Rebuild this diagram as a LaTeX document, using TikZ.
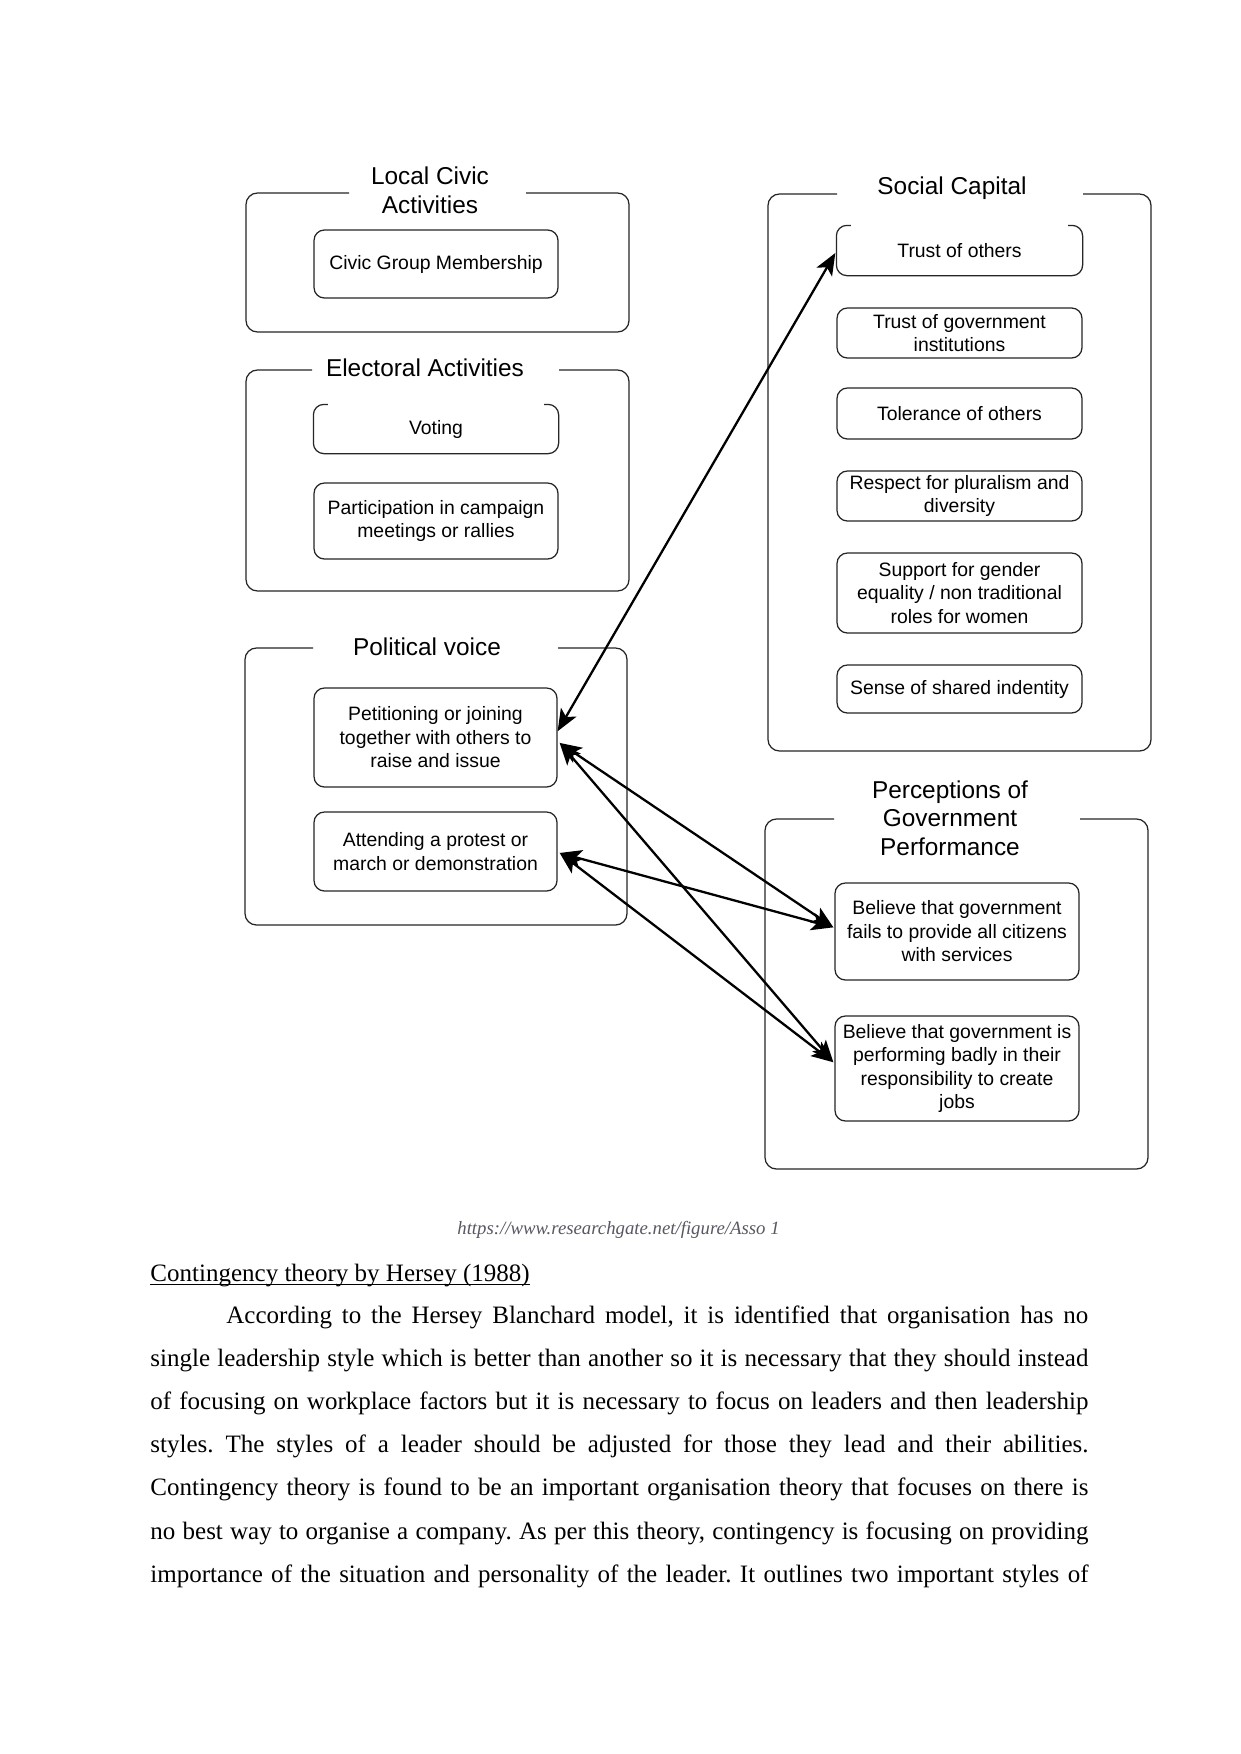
\documentclass[tikz,border=0pt]{standalone}
\usepackage{fontspec}
\setmainfont{Liberation Serif}
\newfontfamily\dsans{Liberation Sans}
\usetikzlibrary{arrows.meta}
\frenchspacing
\newcommand{\ux}{0.4797pt}
\definecolor{capgray}{RGB}{88,88,100}
\tikzset{
  ibox/.style={draw=black!85, rounded corners=5pt, line width=0.6pt, align=center, inner sep=0pt,
    font=\dsans\fontsize{9.3}{11.3}\selectfont},
  obox/.style={ibox, draw=none},
  gbox/.style={rounded corners=5.5pt, line width=0.6pt, draw=black!85},
  gtitle/.style={align=center, inner sep=0pt, anchor=base, font=\dsans\fontsize{11.7}{13.6}\selectfont},
  conn/.style={{Stealth[length=10.5pt,width=8.5pt,inset=2.5pt]}-{Stealth[length=10.5pt,width=8.5pt,inset=2.5pt]}, line width=1.1pt},
  body/.style={anchor=base west, inner sep=0pt, font=\fontsize{12}{14}\selectfont},
}
\newcommand\groupbox[6]{\draw[gbox] (#5,#2) -- (#1,#2) -- (#1,#4) -- (#3,#4) -- (#3,#2) -- (#6,#2);}
\newcommand\opentop[1]{\draw[gbox, rounded corners=5pt] ([xshift=7pt]#1.north west) -- (#1.north west) -- (#1.south west) -- (#1.south east) -- (#1.north east) -- ([xshift=-7pt]#1.north east);}
\begin{document}
\begin{tikzpicture}[x=\ux, y=-\ux]
\useasboundingbox (0,0) rectangle (1241,1754);
\fill[white] (0,0) rectangle (1241,1754);

% group boxes
\groupbox{246}{193}{629}{332}{349}{526}
\groupbox{246}{370}{629}{591}{312}{559}
\groupbox{245}{648}{627}{925}{313}{558}
\groupbox{768}{194}{1151}{751}{837}{1083}
\groupbox{765}{819}{1148}{1169}{834}{1080}

% titles (base = last line)
\node[gtitle] (tlc) at (430,213) {Local Civic\\Activities};
\node[gtitle] (tel) at (425,376) {Electoral Activities};
\node[gtitle] (tpv) at (427,655) {Political voice};
\node[gtitle] (tsc) at (952,195) {Social Capital};
\node[gtitle] (tpg) at (950,855) {Perceptions of\\Government\\Performance};

% inner boxes, left
\node[ibox, minimum width=244*\ux, minimum height=68*\ux] (civ) at (436,264) {Civic Group Membership};
\node[obox, minimum width=244*\ux, minimum height=48*\ux] (vot) at (436,429) {Voting};
\opentop{vot}
\node[ibox, minimum width=244*\ux, minimum height=76*\ux] (par) at (436,521) {Participation in campaign\\meetings or rallies};
\node[ibox, minimum width=243*\ux, minimum height=99*\ux] (pet) at (435.5,737.5) {Petitioning or joining\\together with others to\\raise and issue};
\node[ibox, minimum width=243*\ux, minimum height=79*\ux] (att) at (435.5,851.5) {Attending a protest or\\march or demonstration};

% inner boxes, right
\node[obox, minimum width=245*\ux, minimum height=49*\ux] (tru) at (959.5,250.5) {Trust of others};
\opentop{tru}
\node[ibox, minimum width=245*\ux, minimum height=50*\ux] (tgo) at (959.5,333) {Trust of government\\institutions};
\node[ibox, minimum width=245*\ux, minimum height=51*\ux] (tol) at (959.5,413.5) {Tolerance of others};
\node[ibox, minimum width=245*\ux, minimum height=50*\ux] (res) at (959.5,496) {Respect for pluralism and\\diversity};
\node[ibox, minimum width=245*\ux, minimum height=80*\ux] (sup) at (959.5,593) {Support for gender\\equality / non traditional\\roles for women};
\node[ibox, minimum width=245*\ux, minimum height=48*\ux] (sen) at (959.5,689) {Sense of shared indentity};
\node[ibox, minimum width=244*\ux, minimum height=97*\ux] (be1) at (957,931.5) {Believe that government\\fails to provide all citizens\\with services};
\node[ibox, minimum width=244*\ux, minimum height=105*\ux] (be2) at (957,1068.5) {Believe that government is\\performing badly in their\\responsibility to create\\jobs};

% connectors
\coordinate (petA) at ([yshift=3pt]pet.east);
\coordinate (petB) at ([xshift=1pt,yshift=-2.6pt]pet.east);
\coordinate (attA) at ([xshift=1pt,yshift=-0.7pt]att.east);
\coordinate (be1A) at ([xshift=-0.5pt,yshift=2pt]be1.west);
\coordinate (be2A) at ([xshift=-0.5pt,yshift=3pt]be2.west);
\coordinate (truA) at ([xshift=-0.5pt,yshift=-1.2pt]tru.west);
\draw[conn] (petA) -- (truA);
\draw[conn] (petB) -- (be1A);
\draw[conn] (petB) -- (be2A);
\draw[conn] (attA) -- (be1A);
\draw[conn] (attA) -- (be2A);

% caption and body text
\node[anchor=base, inner sep=0pt, text=capgray, font=\itshape\fontsize{9}{11}\selectfont] (cap) at (618.5,1234) {https://www.researchgate.net/figure/Asso 1};
\node[body] (hd) at (150,1281) {Contingency theory by Hersey (1988)};
\draw[line width=0.55pt] ([yshift=-1.6pt]hd.base west) -- ([yshift=-1.6pt]hd.base east);
\node[body] (l1) at (226,1323) {\makebox[413.5pt][s]{According to the Hersey Blanchard model, it is identified that organisation has no}};
\node[body] (l2) at (150,1366.2) {\makebox[450pt][s]{single leadership style which is better than another so it is necessary that they should instead}};
\node[body] (l3) at (150,1409.4) {\makebox[450pt][s]{of focusing on workplace factors but it is necessary to focus on leaders and then leadership}};
\node[body] (l4) at (150,1452.6) {\makebox[450pt][s]{styles. The styles of a leader should be adjusted for those they lead and their abilities.}};
\node[body] (l5) at (150,1495.8) {\makebox[450pt][s]{Contingency theory is found to be an important organisation theory that focuses on there is}};
\node[body] (l6) at (150,1539) {\makebox[450pt][s]{no best way to organise a company. As per this theory, contingency is focusing on providing}};
\node[body] (l7) at (150,1582.2) {\makebox[450pt][s]{importance of the situation and personality of the leader. It outlines two important styles of}};
\end{tikzpicture}
\end{document}
